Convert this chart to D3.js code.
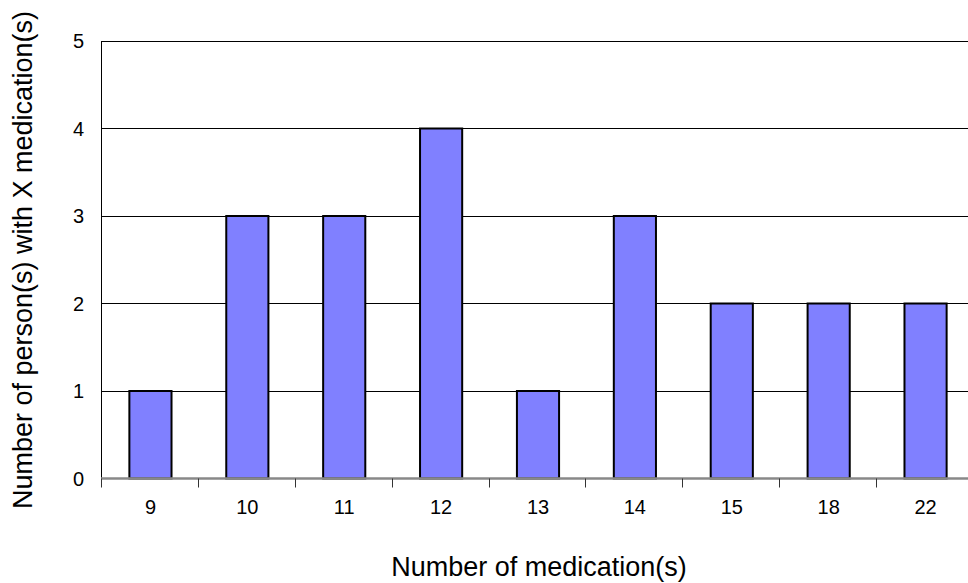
<!DOCTYPE html>
<html>
<head>
<meta charset="utf-8">
<script src="https://cdn.jsdelivr.net/npm/d3@7"></script>
<style>
  html, body { margin: 0; padding: 0; background: #fff; }
  svg { display: block; font-family: "Liberation Sans", Arial, sans-serif; }
</style>
</head>
<body>
<svg id="chart" width="968" height="583"></svg>
<script>
// Medication counts and how many people take each count
const categories = ["9", "10", "11", "12", "13", "14", "15", "18", "22"];
const persons = [1, 3, 3, 4, 1, 3, 2, 2, 2];
const yTicks = [0, 1, 2, 3, 4, 5];

const svg = d3.select("#chart");
const margin = { left: 101, top: 41, right: 973, bottom: 478.5 };

const x = d3.scaleBand()
  .domain(categories)
  .range([margin.left, margin.right])
  .paddingInner(0.565)
  .paddingOuter(0.2825);

const xOuter = d3.scaleBand()
  .domain(categories)
  .range([margin.left, margin.right]);

const y = d3.scaleLinear().domain([0, 5]).range([margin.bottom, margin.top]);

// Horizontal gridlines
svg.append("g")
  .selectAll("line")
  .data(yTicks.filter(d => d > 0))
  .join("line")
  .attr("x1", margin.left).attr("x2", margin.right)
  .attr("y1", d => Math.round(y(d)) + 0.5).attr("y2", d => Math.round(y(d)) + 0.5)
  .attr("stroke", "#000").attr("stroke-width", 1);

// Left border of the plot area
svg.append("line")
  .attr("x1", margin.left + 0.5).attr("x2", margin.left + 0.5)
  .attr("y1", margin.top).attr("y2", margin.bottom)
  .attr("stroke", "#000").attr("stroke-width", 1);

// Y tick labels
svg.append("g")
  .selectAll("text")
  .data(yTicks)
  .join("text")
  .attr("x", 84).attr("y", d => y(d))
  .attr("dy", "0.36em")
  .attr("text-anchor", "end")
  .attr("font-size", 20)
  .text(d => d);

// Bars
svg.append("g")
  .selectAll("rect")
  .data(categories.map((c, i) => ({ c, v: persons[i] })))
  .join("rect")
  .attr("x", d => x(d.c) + 1)
  .attr("y", d => y(d.v))
  .attr("width", x.bandwidth())
  .attr("height", d => y(0) - y(d.v))
  .attr("fill", "#8080FF")
  .attr("stroke", "#000")
  .attr("stroke-width", 2);

// Category axis baseline and ticks
svg.append("line")
  .attr("x1", margin.left).attr("x2", margin.right)
  .attr("y1", margin.bottom).attr("y2", margin.bottom)
  .attr("stroke", "#888").attr("stroke-width", 2.5);

const tickPositions = [margin.left].concat(categories.map(c => xOuter(c) + xOuter.bandwidth()));
svg.append("g")
  .selectAll("line")
  .data(tickPositions)
  .join("line")
  .attr("x1", d => Math.round(d) + 0.5).attr("x2", d => Math.round(d) + 0.5)
  .attr("y1", margin.bottom).attr("y2", margin.bottom + 9)
  .attr("stroke", "#333").attr("stroke-width", 1);

// X tick labels
svg.append("g")
  .selectAll("text")
  .data(categories)
  .join("text")
  .attr("x", d => xOuter(d) + xOuter.bandwidth() / 2 + 1)
  .attr("y", 514)
  .attr("text-anchor", "middle")
  .attr("font-size", 20)
  .text(d => d);

// Axis titles
svg.append("text")
  .attr("x", 539).attr("y", 576)
  .attr("text-anchor", "middle")
  .attr("font-size", 27)
  .text("Number of medication(s)");

svg.append("text")
  .attr("transform", "translate(22,260) rotate(-90)")
  .attr("dy", "0.36em")
  .attr("text-anchor", "middle")
  .attr("font-size", 27)
  .text("Number of person(s) with X medication(s)");
</script>
</body>
</html>
